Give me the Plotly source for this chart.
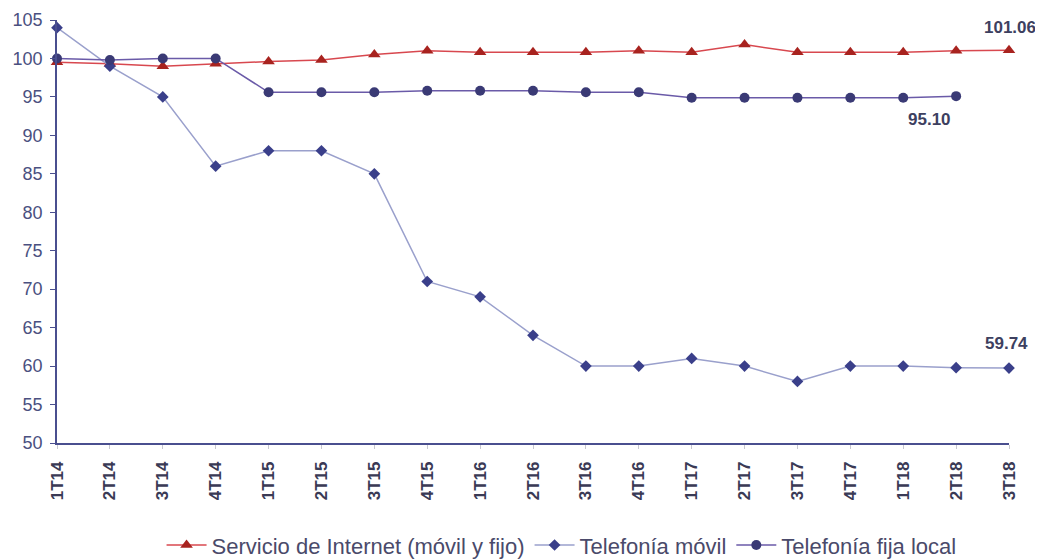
import plotly.graph_objects as go

categories = ["1T14", "2T14", "3T14", "4T14", "1T15", "2T15", "3T15", "4T15", "1T16", "2T16",
              "3T16", "4T16", "1T17", "2T17", "3T17", "4T17", "1T18", "2T18", "3T18"]

internet = [99.5, 99.3, 99.0, 99.3, 99.6, 99.8, 100.5, 101.0, 100.8, 100.8,
            100.8, 101.0, 100.8, 101.8, 100.8, 100.8, 100.8, 101.0, 101.06]
movil = [104.0, 99.0, 95.0, 86.0, 88.0, 88.0, 85.0, 71.0, 69.0, 64.0,
         60.0, 60.0, 61.0, 60.0, 58.0, 60.0, 60.0, 59.8, 59.74]
fija = [100.0, 99.8, 100.0, 100.0, 95.6, 95.6, 95.6, 95.8, 95.8, 95.8,
        95.6, 95.6, 94.9, 94.9, 94.9, 94.9, 94.9, 95.10]

y_ticks = [50, 55, 60, 65, 70, 75, 80, 85, 90, 95, 100, 105]

x_idx = list(range(len(categories)))

fig = go.Figure()
fig.add_trace(go.Scatter(
    x=x_idx, y=internet, mode="lines+markers", name="Servicio de Internet (móvil y fijo)",
    line=dict(color="#d8484f", width=1.5), cliponaxis=False,
    marker=dict(symbol="triangle-up", size=11, color="#a8231f"),
))
fig.add_trace(go.Scatter(
    x=x_idx, y=movil, mode="lines+markers", name="Telefonía móvil",
    line=dict(color="#9aa0cc", width=1.5), cliponaxis=False,
    marker=dict(symbol="diamond", size=9, color="#3a3f8a"),
))
fig.add_trace(go.Scatter(
    x=x_idx[:len(fija)], y=fija, mode="lines+markers", name="Telefonía fija local",
    line=dict(color="#6a5aa8", width=1.5), cliponaxis=False,
    marker=dict(symbol="circle", size=10, color="#3a3a75"),
))

fig.add_annotation(x=x_idx[-1], y=internet[-1], text="<b>101.06</b>", showarrow=False,
                   yshift=23, xshift=1, font=dict(size=17, color="#3d4060", family="Arial"))
fig.add_annotation(x=x_idx[len(fija) - 1], y=fija[-1], text="<b>95.10</b>", showarrow=False,
                   yshift=-23, xshift=-27, font=dict(size=17, color="#3d4060", family="Arial"))
fig.add_annotation(x=x_idx[-1], y=movil[-1], text="<b>59.74</b>", showarrow=False,
                   yshift=25, xshift=-3, font=dict(size=17, color="#3d4060", family="Arial"))

fig.update_layout(
    width=1035, height=551,
    margin=dict(l=49, r=34, t=12, b=116),
    paper_bgcolor="white", plot_bgcolor="white",
    font=dict(family="Arial", color="#4a4f7a"),
    showlegend=True,
    legend=dict(orientation="h", x=0.530, xanchor="center",
                yref="container", y=0.025, yanchor="middle",
                font=dict(size=22, color="#4a4a6a"), itemwidth=40, tracegroupgap=0),
    xaxis=dict(
        tickmode="array", tickvals=x_idx, ticktext=[f"<b>{c}</b>" for c in categories],
        range=[0, len(categories) - 1], tickangle=-90, automargin=False,
        showgrid=False, zeroline=False, showline=True, linecolor="#4a4f8f", linewidth=1.5,
        ticks="outside", ticklen=4, tickcolor="#c8c8d0", ticklabelstandoff=6,
        tickfont=dict(size=17, color="#3a3a55", family="Arial"),
    ),
    yaxis=dict(
        tickmode="array", tickvals=y_ticks, range=[50, 105], automargin=False,
        showgrid=False, zeroline=False, showline=True, linecolor="#4a4f8f", linewidth=1.5,
        ticks="outside", ticklen=5, tickcolor="#4a4f8f", ticklabelstandoff=4,
        tickfont=dict(size=18, color="#4a5080", family="Arial"),
    ),
)

fig.write_html("out.html")
